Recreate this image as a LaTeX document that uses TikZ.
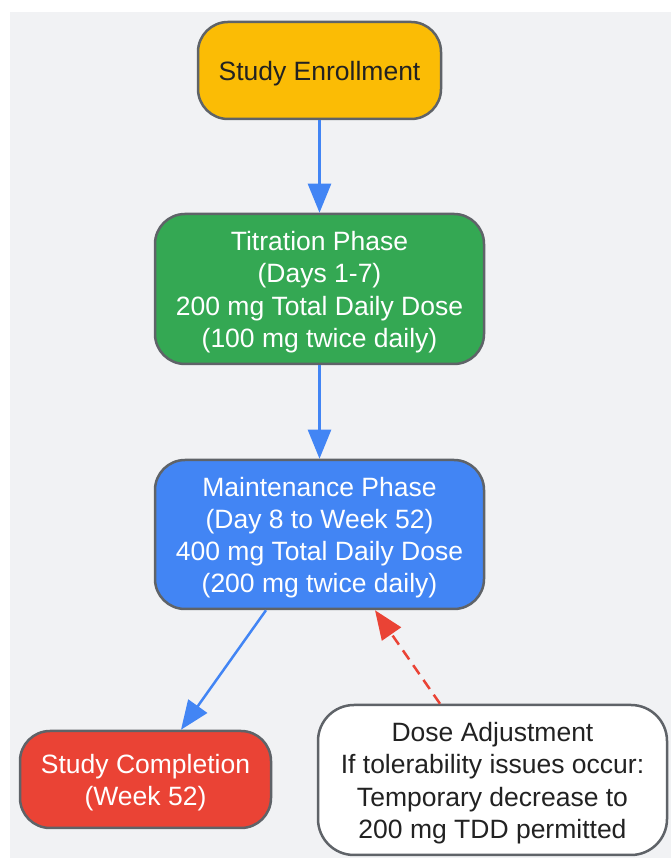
\documentclass[tikz,border=0pt]{standalone}
\usepackage{fontspec}
\setmainfont{Liberation Sans}
\usetikzlibrary{arrows.meta,calc}
\definecolor{bggray}{HTML}{F1F2F4}
\definecolor{cyellow}{HTML}{FBBC05}
\definecolor{cgreen}{HTML}{34A853}
\definecolor{cblue}{HTML}{4285F4}
\definecolor{cred}{HTML}{EA4335}
\definecolor{cborder}{HTML}{5F6368}
\definecolor{ctext}{HTML}{222222}
\newcommand{\topstrut}{\rule{0pt}{25.5pt}}
\tikzset{
  box/.style={draw=cborder, line width=2.5pt, rounded corners=30pt, align=center,
    inner sep=0pt, font=\fontsize{26.5}{32.2}\selectfont},
  flow/.style={draw=cblue, line width=2.5pt, -{Triangle[length=29pt,width=23pt]}},
  adjust/.style={draw=cred, line width=2.5pt, dash pattern=on 11pt off 7pt,
    -{Triangle[length=29pt,width=23pt]}},
}
\begin{document}
\begin{tikzpicture}[x=1pt,y=1pt]
\useasboundingbox (0,0) rectangle (671,858);
\fill[bggray] (10,0) rectangle (671,846);
\node[box, fill=cyellow, text=ctext, minimum width=243pt, minimum height=97pt] (enroll) at (319.5,787.5) {\topstrut Study Enrollment};
\node[box, fill=cgreen, text=white, minimum width=329pt, minimum height=150pt] (titr) at (319.5,569) {\topstrut Titration Phase\\(Days 1-7)\\200 mg Total Daily Dose\\(100 mg twice daily)};
\node[box, fill=cblue, text=white, minimum width=329pt, minimum height=149pt] (maint) at (319.5,323.5) {\topstrut Maintenance Phase\\(Day 8 to Week 52)\\400 mg Total Daily Dose\\(200 mg twice daily)};
\node[box, fill=cred, text=white, minimum width=251pt, minimum height=97pt] (compl) at (145.5,78.5) {\topstrut Study Completion\\(Week 52)};
\node[box, fill=white, text=ctext, minimum width=349pt, minimum height=150pt, rounded corners=36pt] (dose) at (492.5,78) {\topstrut Dose Adjustment\\If tolerability issues occur:\\Temporary decrease to\\200 mg TDD permitted};
\draw[flow] (enroll.south) -- (titr.north);
\draw[flow] (titr.south) -- (maint.north);
\draw[flow] ([xshift=-53.5pt]maint.south) -- ([xshift=35.5pt]compl.north);
\draw[adjust] ([xshift=-52.5pt]dose.north) -- ([xshift=55.5pt]maint.south);
\end{tikzpicture}
\end{document}
